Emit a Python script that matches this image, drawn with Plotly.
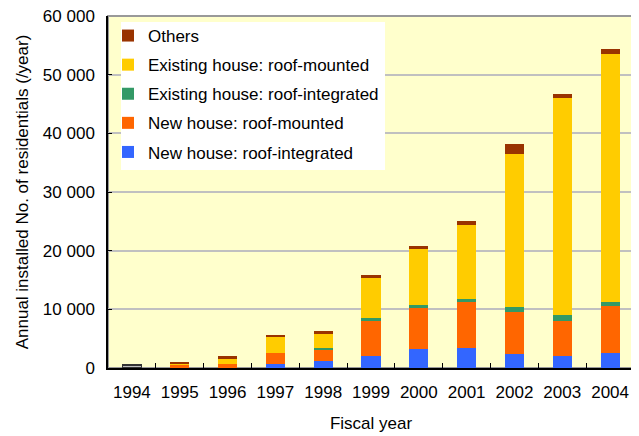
import plotly.graph_objects as go

years = ["1994", "1995", "1996", "1997", "1998", "1999", "2000", "2001", "2002", "2003", "2004"]

# 1994 only has a total (no breakdown)
total_1994 = [540, None, None, None, None, None, None, None, None, None, None]

new_integrated = [None, 50, 40, 620, 1190, 2030, 3220, 3400, 2320, 1980, 2490]
new_mounted = [None, 450, 640, 1860, 1860, 6100, 6950, 7900, 7150, 5960, 8000]
exist_integrated = [None, 0, 0, 0, 340, 340, 510, 510, 850, 1020, 680]
exist_mounted = [None, 350, 970, 2880, 2540, 6950, 9660, 12500, 26190, 37070, 42340]
others = [None, 250, 340, 340, 340, 510, 510, 680, 1700, 680, 860]

series = [
    ("New house: roof-integrated", new_integrated, "#3366FF"),
    ("New house: roof-mounted", new_mounted, "#FF6600"),
    ("Existing house: roof-integrated", exist_integrated, "#339966"),
    ("Existing house: roof-mounted", exist_mounted, "#FFCC00"),
    ("Others", others, "#993300"),
]

FONT = "Liberation Sans"
# page has an 8px body margin, so the figure is drawn 8px in from top/left
W, H = 631, 428
L, R, T, B = 100, 5, 8, 68
PW, PH = W - L - R, H - T - B

fig = go.Figure()

fig.add_trace(go.Bar(x=years, y=total_1994, marker=dict(color="#C0C0C0", line=dict(color="#333333", width=1.5)),
                     showlegend=False, hoverinfo="skip"))

for i, (name, vals, col) in enumerate(series):
    fig.add_trace(go.Bar(x=years, y=vals, name=name, marker=dict(color=col, line=dict(width=0)),
                         legendgroup=f"g{i}", legendrank=100 - i))

# gray frame on top/right of plot area
fig.add_shape(type="rect", xref="paper", yref="paper", x0=0, x1=1, y0=0, y1=1,
              line=dict(color="#999999", width=2), layer="below")
# white legend box
fig.add_shape(type="rect", xref="paper", yref="paper",
              x0=13 / PW, x1=277 / PW, y0=(PH - 154) / PH, y1=(PH - 6) / PH,
              fillcolor="white", line=dict(width=0), layer="above")

fig.update_layout(
    width=W, height=H,
    barmode="stack", bargap=0.6,
    plot_bgcolor="#FFFFCC", paper_bgcolor="white",
    margin=dict(l=L, r=R, t=T, b=B, autoexpand=False),
    separators=". ",
    font=dict(family=FONT, size=17, color="black"),
    legend=dict(x=0.0, y=(PH - 2) / PH, xanchor="left", yanchor="top", bgcolor="rgba(0,0,0,0)",
                traceorder="grouped", tracegroupgap=4, font=dict(family=FONT, size=17),
                itemwidth=30),
    showlegend=True,
)

fig.update_xaxes(
    title=dict(text="Fiscal year", standoff=16, font=dict(family=FONT, size=17)), type="category",
    automargin=False,
    showline=True, linecolor="black", linewidth=2,
    ticks="inside", tickson="boundaries", ticklen=5, tickcolor="black",
    showgrid=False, tickfont=dict(family=FONT, size=17), ticklabelstandoff=8,
)
fig.update_yaxes(
    title=dict(text="Annual installed No. of residentials (/year)", standoff=10, font=dict(family=FONT, size=17)),
    automargin=False, ticklabeloverflow="allow",
    range=[0, 60000], dtick=10000, tickformat=",d",
    showline=True, linecolor="black", linewidth=1.5,
    ticks="inside", ticklen=4, tickcolor="black",
    showgrid=True, gridcolor="#C0C0C0", gridwidth=1.5, zeroline=False,
    tickfont=dict(family=FONT, size=17), ticklabelstandoff=8,
)

fig.write_html("out.html")
